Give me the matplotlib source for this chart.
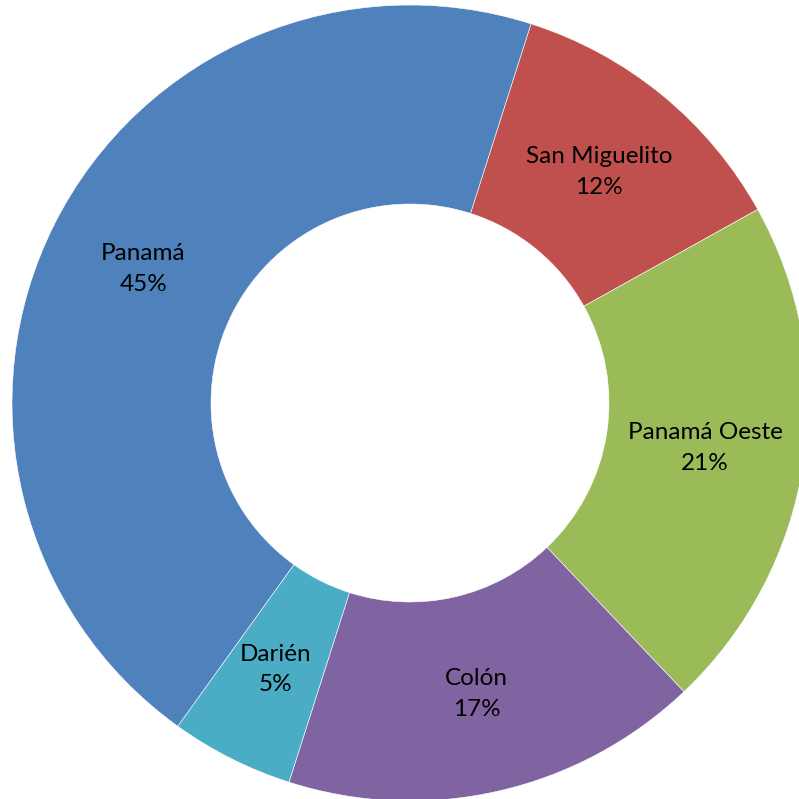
import matplotlib
matplotlib.use("Agg")
import matplotlib.pyplot as plt

categories = ["San Miguelito", "Panamá Oeste", "Colón", "Darién", "Panamá"]
values = [12, 21, 17, 5, 45]
colors = ["#C0504D", "#9BBB59", "#8064A2", "#4BACC6", "#4F81BD"]

plt.rcParams['font.family'] = ['Lato', 'DejaVu Sans']

fig = plt.figure(figsize=(7.99, 7.99), dpi=100)
W = 799.0
cx, cy, R = 410.0, 403.0, 398.0
ax = fig.add_axes([(cx - R) / W, (W - cy - R) / W, 2 * R / W, 2 * R / W])

labels = [f"{c}\n{v}%" for c, v in zip(categories, values)]
wedges, texts = ax.pie(values, colors=colors, labels=labels, startangle=90 - 17.7,
                       counterclock=False, radius=1.0, labeldistance=0.75,
                       wedgeprops=dict(width=0.5, edgecolor='white', linewidth=0.4),
                       textprops=dict(fontsize=17.5, color='black'))
for t in texts:
    t.set_ha('center')
    t.set_va('center')
    t.set_linespacing(1.55)
ax.set_xlim(-1, 1)
ax.set_ylim(-1, 1)
ax.set_aspect('equal')
ax.axis('off')
fig.savefig("out.png", dpi=100)
